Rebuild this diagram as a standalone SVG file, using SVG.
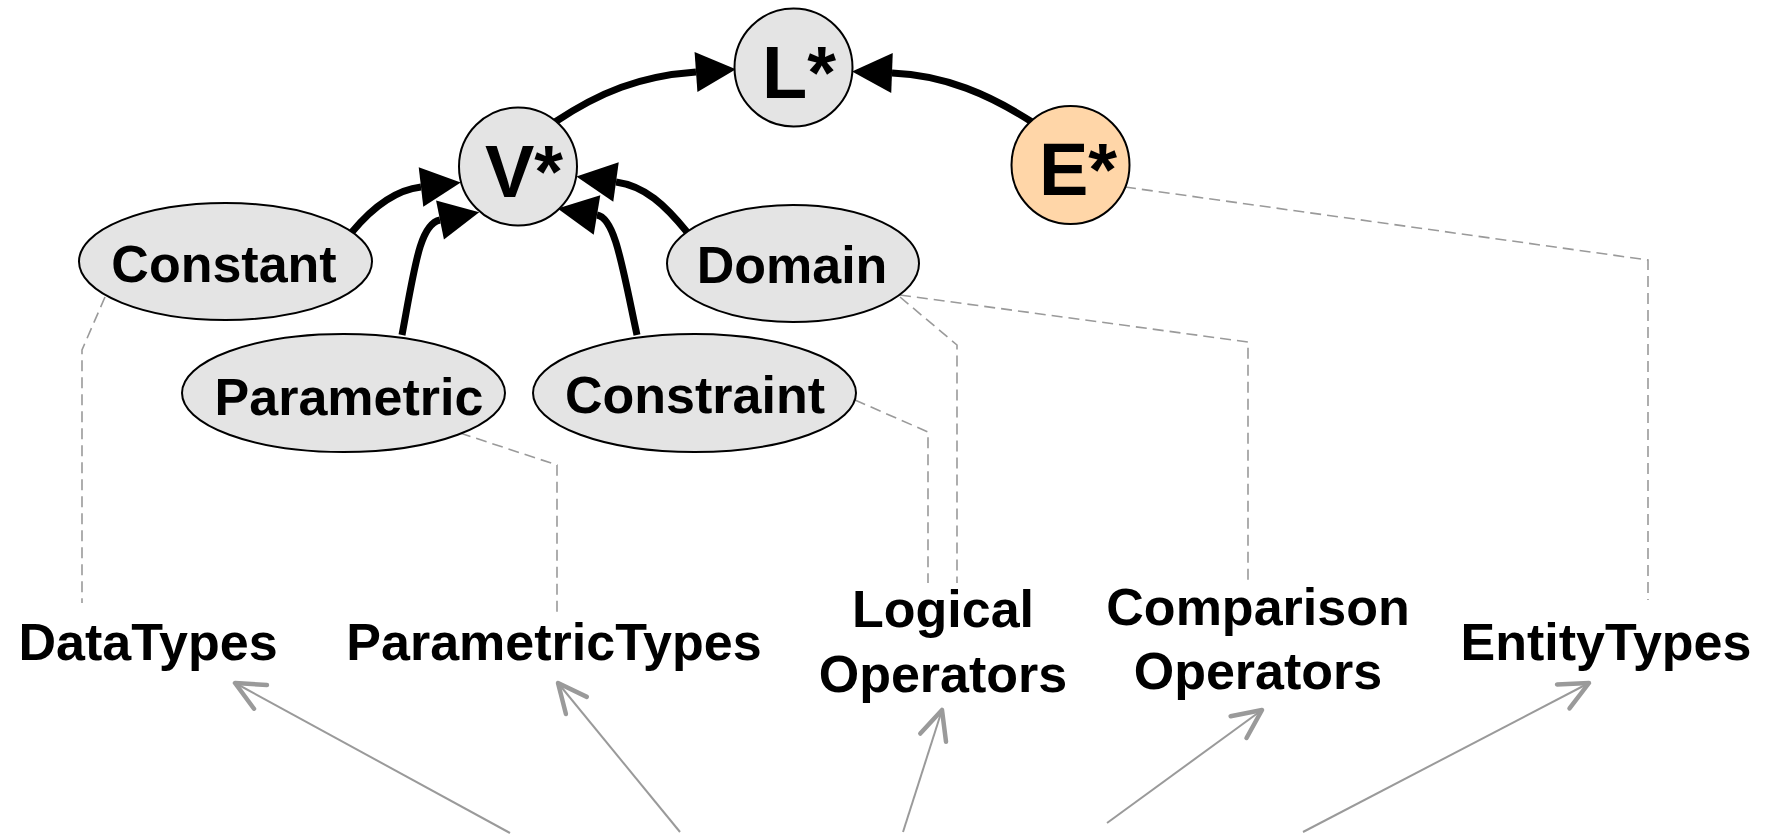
<svg xmlns="http://www.w3.org/2000/svg" width="1769" height="835" viewBox="0 0 1769 835">
  <style>
    .node { fill: #e4e4e4; stroke: #000; stroke-width: 2; }
    .node.entity { fill: #ffd6a8; }
    .lbl { font-family: "Liberation Sans", Arial, sans-serif; font-weight: bold; font-size: 52px; fill: #000; text-anchor: middle; }
    .big { font-size: 74px; }
    .link { fill: none; stroke: #000; stroke-width: 7; }
    .dash { fill: none; stroke: #9a9a9a; stroke-width: 1.6; stroke-dasharray: 11 6; }
    .ref { fill: none; stroke: #9a9a9a; stroke-width: 2; }
  </style>
  <defs>
    <!-- solid black head, drawn forward from the end of its line -->
    <marker id="head" markerUnits="userSpaceOnUse" markerWidth="42" markerHeight="42" refX="0" refY="20" orient="auto" overflow="visible">
      <path d="M0,0 L40,20 L0,40 Z" fill="#000"/>
    </marker>
    <!-- open grey chevron -->
    <marker id="chevron" markerUnits="userSpaceOnUse" markerWidth="40" markerHeight="40" refX="0" refY="0" orient="auto" overflow="visible">
      <path d="M-29,-13.5 L0,0 L-29,13.5" fill="none" stroke="#9a9a9a" stroke-width="4.5" stroke-linecap="round" stroke-linejoin="round"/>
    </marker>
  </defs>

  <rect width="1769" height="835" fill="#fff"/>

  <!-- connectors -->
  <g id="connectors">
    <path class="link" d="M555,122 C600,92 640,76 696,72" marker-end="url(#head)"/>
    <path class="link" d="M1032,122 C990,95 945,75 892,73" marker-end="url(#head)"/>
    <path class="link" d="M352,232 C372,208 395,190 421,187" marker-end="url(#head)"/>
    <path class="link" d="M402,335 C415,265 420,224 440,220" marker-end="url(#head)"/>
    <path class="link" d="M637,335 C622,265 615,218 597,215" marker-end="url(#head)"/>
    <path class="link" d="M687,232 C665,205 645,186 616,182" marker-end="url(#head)"/>

    <path class="dash" d="M105,297 L82,350 L82,603"/>
    <path class="dash" d="M460,433 L557,465 L557,617"/>
    <path class="dash" d="M855,400 L928,432 L928,583"/>
    <path class="dash" d="M900,297 L957,345 L957,583"/>
    <path class="dash" d="M900,295 L1248,342 L1248,583"/>
    <path class="dash" d="M1125,187 L1648,260 L1648,600"/>

    <path class="ref" d="M510,833 L235,683" marker-end="url(#chevron)"/>
    <path class="ref" d="M680,832 L558,683" marker-end="url(#chevron)"/>
    <path class="ref" d="M903,832 L942,710" marker-end="url(#chevron)"/>
    <path class="ref" d="M1107,823 L1262,710" marker-end="url(#chevron)"/>
    <path class="ref" d="M1303,832 L1589,683" marker-end="url(#chevron)"/>
  </g>

  <!-- core nodes -->
  <g id="node-L">
    <circle class="node" cx="793.5" cy="67.5" r="59"/>
    <text class="lbl big" x="799" y="98">L*</text>
  </g>
  <g id="node-V">
    <circle class="node" cx="518" cy="166.5" r="59"/>
    <text class="lbl big" x="524" y="197">V*</text>
  </g>
  <g id="node-E">
    <circle class="node entity" cx="1070.5" cy="165" r="59"/>
    <text class="lbl big" x="1078" y="195">E*</text>
  </g>

  <!-- value kinds -->
  <g id="node-constant">
    <ellipse class="node" cx="225.5" cy="261.5" rx="146.5" ry="58.5"/>
    <text class="lbl" x="224" y="282">Constant</text>
  </g>
  <g id="node-parametric">
    <ellipse class="node" cx="343.5" cy="393" rx="161.5" ry="59"/>
    <text class="lbl" x="349" y="415">Parametric</text>
  </g>
  <g id="node-constraint">
    <ellipse class="node" cx="694.5" cy="393" rx="161.5" ry="59"/>
    <text class="lbl" x="695" y="413">Constraint</text>
  </g>
  <g id="node-domain">
    <ellipse class="node" cx="793" cy="263.5" rx="126" ry="58.5"/>
    <text class="lbl" x="792" y="283">Domain</text>
  </g>

  <!-- type vocabularies -->
  <g id="node-datatypes">
    <text class="lbl" x="148" y="660">DataTypes</text>
  </g>
  <g id="node-parametrictypes">
    <text class="lbl" x="554" y="660">ParametricTypes</text>
  </g>
  <g id="node-logical">
    <text class="lbl" x="943" y="627">Logical</text>
    <text class="lbl" x="943" y="692">Operators</text>
  </g>
  <g id="node-comparison">
    <text class="lbl" x="1258" y="625">Comparison</text>
    <text class="lbl" x="1258" y="689">Operators</text>
  </g>
  <g id="node-entitytypes">
    <text class="lbl" x="1606" y="660">EntityTypes</text>
  </g>
</svg>
